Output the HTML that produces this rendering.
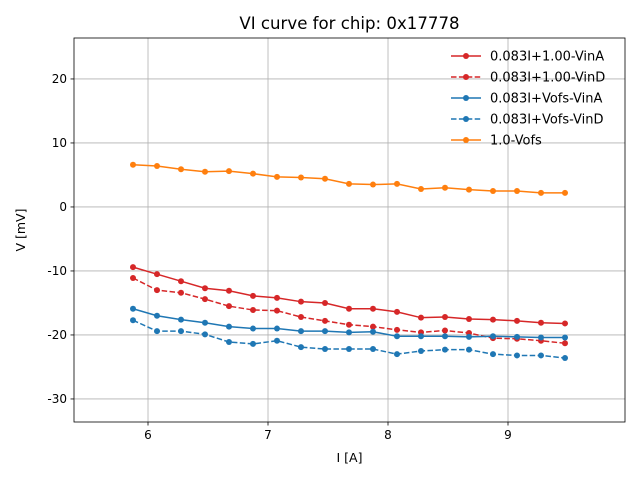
<!DOCTYPE html>
<html><head><meta charset="utf-8"><style>
body{margin:0;background:#fff;font-family:"Liberation Sans","DejaVu Sans",sans-serif}
svg text{font-family:"DejaVu Sans","Liberation Sans",sans-serif}
</style></head><body>
<svg id="c" width="640" height="480" xmlns="http://www.w3.org/2000/svg"></svg>
<script>
const xs=[5.875,6.075,6.275,6.475,6.675,6.875,7.075,7.275,7.475,7.675,7.875,8.075,8.275,8.475,8.675,8.875,9.075,9.275,9.475];
const redA=[-9.4,-10.5,-11.6,-12.7,-13.1,-13.9,-14.2,-14.8,-15.0,-15.9,-15.9,-16.4,-17.3,-17.2,-17.5,-17.6,-17.8,-18.1,-18.2];
const redD=[-11.1,-13.0,-13.4,-14.4,-15.5,-16.1,-16.2,-17.2,-17.8,-18.4,-18.7,-19.2,-19.6,-19.3,-19.7,-20.5,-20.6,-20.9,-21.3];
const blueA=[-15.9,-17.0,-17.6,-18.1,-18.7,-19.0,-19.0,-19.4,-19.4,-19.6,-19.5,-20.2,-20.2,-20.2,-20.3,-20.2,-20.3,-20.4,-20.4];
const blueD=[-17.7,-19.4,-19.4,-19.9,-21.1,-21.4,-20.9,-21.9,-22.2,-22.2,-22.2,-23.0,-22.5,-22.3,-22.3,-23.0,-23.2,-23.2,-23.6];
const orange=[6.6,6.4,5.9,5.5,5.6,5.2,4.7,4.6,4.4,3.6,3.5,3.6,2.8,3.0,2.7,2.5,2.5,2.2,2.2];
const xTicks=[6,7,8,9];
const yTicks=[-30,-20,-10,0,10,20];
const labels=["0.083I+1.00-VinA","0.083I+1.00-VinD","0.083I+Vofs-VinA","0.083I+Vofs-VinD","1.0-Vofs"];
const L=74,R=625,T=38,B=422,x0=5.3833,x1=9.975,y0=-33.6,y1=26.4;
const X=v=>L+(v-x0)/(x1-x0)*(R-L), Y=v=>B-(v-y0)/(y1-y0)*(B-T);
const svg=document.getElementById('c'),NS="http://www.w3.org/2000/svg";
function mk(t,a,p){const e=document.createElementNS(NS,t);for(const k in a)e.setAttribute(k,a[k]);(p||svg).appendChild(e);return e;}
for(const t of xTicks){const g=mk('line',{x1:X(t),x2:X(t),y1:T,y2:B,stroke:'#b0b0b0','stroke-width':0.8});

mk('line',{x1:X(t),x2:X(t),y1:B,y2:B+3.5,stroke:'#000','stroke-width':0.8});
const tx=mk('text',{x:X(t),y:B+17,'font-size':12,'text-anchor':'middle'});tx.textContent=t;
}
for(const t of yTicks){const g=mk('line',{x1:L,x2:R,y1:Y(t),y2:Y(t),stroke:'#b0b0b0','stroke-width':0.8});

mk('line',{x1:L-3.5,x2:L,y1:Y(t),y2:Y(t),stroke:'#000','stroke-width':0.8});
const tx=mk('text',{x:L-7,y:Y(t)+4,'font-size':12,'text-anchor':'end'});tx.textContent=t;
}
const series=[[redA,'#d62728',''],[redD,'#d62728','5.5,2.4'],[blueA,'#1f77b4',''],[blueD,'#1f77b4','5.5,2.4'],[orange,'#ff7f0e','']];
series.forEach((s,i)=>{const g=mk('g',{});
mk('polyline',{points:xs.map((x,j)=>X(x)+','+Y(s[0][j])).join(' '),fill:'none',stroke:s[1],'stroke-width':1.5,'stroke-dasharray':s[2]},g);
xs.forEach((x,j)=>{const c=mk('circle',{cx:X(x),cy:Y(s[0][j]),r:3,fill:s[1]},g);});
const ly=56+i*21,lg=mk('g',{});
mk('line',{x1:451,x2:481,y1:ly,y2:ly,stroke:s[1],'stroke-width':1.5,'stroke-dasharray':s[2]},lg);
mk('circle',{cx:466,cy:ly,r:3,fill:s[1]},lg);
const t=mk('text',{x:490,y:ly+4.5,'font-size':13},lg);t.textContent=labels[i];});
const fr=mk('rect',{x:L,y:T,width:R-L,height:B-T,fill:'none',stroke:'#000','stroke-width':0.8});

let t=mk('text',{x:(L+R)/2,y:29,'font-size':16.6,'text-anchor':'middle'});t.textContent='VI curve for chip: 0x17778';

t=mk('text',{x:(L+R)/2,y:462,'font-size':12.5,'text-anchor':'middle'});t.textContent='I [A]';

t=mk('text',{x:25,y:(T+B)/2,'font-size':12.5,'text-anchor':'middle',transform:'rotate(-90 25 '+(T+B)/2+')'});t.textContent='V [mV]';

</script></body></html>
